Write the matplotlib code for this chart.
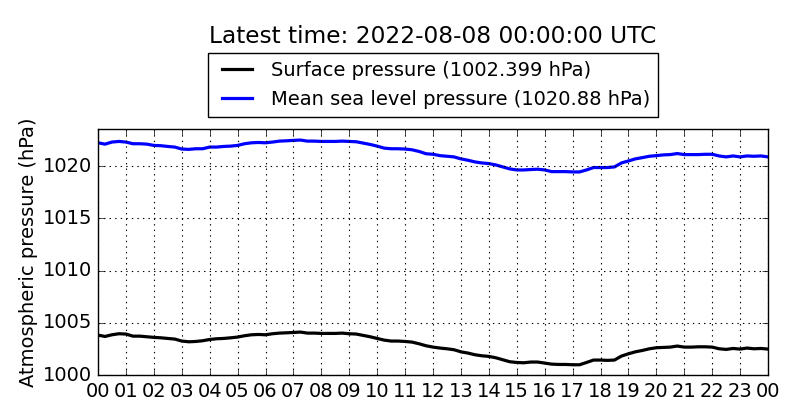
import matplotlib
matplotlib.use("Agg")
import matplotlib.pyplot as plt
import numpy as np

plt.style.use("classic")

# Time in hours (quarter-hour readings)
hours = [i * 0.25 for i in range(97)]

surface = [
    1003.82, 1003.69, 1003.85, 1003.95, 1003.92, 1003.72, 1003.72, 1003.66,
    1003.60, 1003.56, 1003.50, 1003.44, 1003.25, 1003.18, 1003.21, 1003.28,
    1003.40, 1003.47, 1003.50, 1003.56, 1003.63, 1003.76, 1003.85, 1003.88,
    1003.85, 1003.95, 1004.01, 1004.04, 1004.07, 1004.11, 1004.01, 1004.01,
    1003.98, 1003.98, 1003.98, 1004.01, 1003.95, 1003.92, 1003.79, 1003.66,
    1003.50, 1003.34, 1003.25, 1003.25, 1003.21, 1003.15, 1002.99, 1002.80,
    1002.67, 1002.58, 1002.51, 1002.42, 1002.22, 1002.10, 1001.94, 1001.84,
    1001.78, 1001.65, 1001.46, 1001.27, 1001.20, 1001.17, 1001.24, 1001.24,
    1001.14, 1001.04, 1001.01, 1001.01, 1000.98, 1000.98, 1001.20, 1001.43,
    1001.43, 1001.40, 1001.43, 1001.81, 1002.03, 1002.22, 1002.35, 1002.51,
    1002.61, 1002.64, 1002.67, 1002.77, 1002.67, 1002.67, 1002.70, 1002.70,
    1002.67, 1002.51, 1002.45, 1002.54, 1002.48, 1002.58, 1002.51, 1002.54,
    1002.48,
]

msl = [
    1022.23, 1022.10, 1022.30, 1022.36, 1022.30, 1022.14, 1022.14, 1022.10,
    1021.98, 1021.95, 1021.88, 1021.82, 1021.63, 1021.60, 1021.66, 1021.66,
    1021.82, 1021.82, 1021.88, 1021.91, 1021.98, 1022.14, 1022.23, 1022.26,
    1022.23, 1022.30, 1022.39, 1022.42, 1022.46, 1022.49, 1022.39, 1022.39,
    1022.36, 1022.36, 1022.36, 1022.39, 1022.36, 1022.33, 1022.20, 1022.07,
    1021.91, 1021.72, 1021.66, 1021.66, 1021.63, 1021.56, 1021.40, 1021.18,
    1021.13, 1021.00, 1020.94, 1020.88, 1020.69, 1020.56, 1020.40, 1020.30,
    1020.24, 1020.11, 1019.92, 1019.73, 1019.63, 1019.63, 1019.67, 1019.70,
    1019.63, 1019.47, 1019.47, 1019.47, 1019.44, 1019.44, 1019.63, 1019.86,
    1019.86, 1019.86, 1019.92, 1020.30, 1020.49, 1020.69, 1020.81, 1020.94,
    1021.00, 1021.07, 1021.10, 1021.20, 1021.10, 1021.10, 1021.10, 1021.13,
    1021.13, 1020.97, 1020.88, 1020.97, 1020.88, 1020.97, 1020.94, 1020.97,
    1020.88,
]

xtick_pos = list(range(25))
xtick_labels = ["%02d" % (h % 24) for h in range(25)]
ytick_pos = [1000, 1005, 1010, 1015, 1020]
ytick_labels = ["1000", "1005", "1010", "1015", "1020"]

title_text = "Latest time: 2022-08-08 00:00:00 UTC"
surface_label = "Surface pressure (1002.399 hPa)"
msl_label = "Mean sea level pressure (1020.88 hPa)"

fig = plt.figure(figsize=(8, 4.2), dpi=100, facecolor="white")
ax = fig.add_axes([98 / 800, 1 - 375 / 420, 670 / 800, 246 / 420])

ax.plot(hours, surface, color="black", lw=2.3, label=surface_label)
ax.plot(hours, msl, color="blue", lw=2.3, label=msl_label)

ax.set_xlim(0, 24)
ax.set_ylim(1000, 1023.55)
ax.set_xticks(xtick_pos)
ax.set_xticklabels(xtick_labels)
ax.set_yticks(ytick_pos)
ax.set_yticklabels(ytick_labels)
ax.tick_params(labelsize=14)
ax.tick_params(axis="x", pad=5)
ax.grid(True, color="black", linestyle=":", linewidth=0.8)
ax.set_ylabel("Atmospheric pressure (hPa)", fontsize=14)
ax.yaxis.set_label_coords(-0.09, 0.5)

leg = ax.legend(loc="lower center", bbox_to_anchor=(0.5, 1 + 12 / 246),
                borderaxespad=0, fontsize=14, frameon=True, handlelength=2.15,
                handletextpad=0.65, labelspacing=0.52, borderpad=0.4)
leg.get_frame().set_edgecolor("black")

fig.text(433 / 800, 1 - 43 / 420, title_text, ha="center", va="baseline", fontsize=16.75)

fig.savefig("out.png", dpi=100, facecolor="white")
